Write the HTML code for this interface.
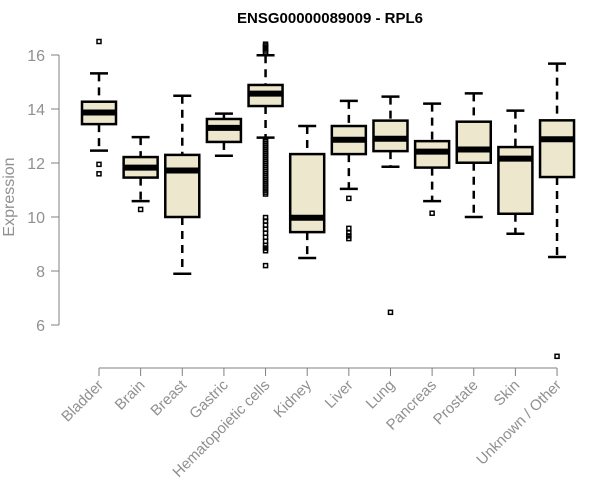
<!DOCTYPE html>
<html><head><meta charset="utf-8"><style>
body{margin:0;background:#fff;}
svg{display:block;font-family:"Liberation Sans",Arial,sans-serif;}
</style></head><body>
<svg id="chart" width="600" height="500">
<text x="330" y="23" text-anchor="middle" font-size="15" font-weight="bold" fill="#000">ENSG00000089009 - RPL6</text>
<text transform="translate(14,197) rotate(-90)" text-anchor="middle" font-size="16" fill="#909090">Expression</text>
</svg>
<script>
const categories=["Bladder","Brain","Breast","Gastric","Hematopoietic cells","Kidney","Liver","Lung","Pancreas","Prostate","Skin","Unknown / Other"];
const lowWhisker=[12.46,10.59,7.9,12.27,12.94,8.48,11.04,11.86,10.59,10.0,9.38,8.52];
const q1=[13.44,11.46,10.0,12.78,14.11,9.44,12.33,12.44,11.83,12.01,10.12,11.48];
const medians=[13.87,11.83,11.72,13.3,14.57,9.97,12.86,12.9,12.42,12.5,12.16,12.88];
const q3=[14.27,12.22,12.3,13.63,14.89,12.33,13.37,13.57,12.81,13.53,12.59,13.58];
const highWhisker=[15.32,12.96,14.49,13.83,15.99,13.37,14.3,14.46,14.2,14.58,13.94,15.68];
const outliers=[
 [16.5,11.95,11.6],[10.28],[],[],
 [16.08,16.15,16.22,16.28,16.34,16.4,12.88,12.8,12.72,12.65,12.58,12.5,12.42,12.35,12.28,12.2,12.12,12.05,11.98,11.9,11.82,11.75,11.68,11.6,11.52,11.45,11.38,11.3,11.22,11.15,11.08,11.0,10.92,10.85,9.98,9.85,9.7,9.55,9.4,9.25,9.1,8.95,8.85,8.75,8.2],
 [],[10.69,9.58,9.41,9.3,9.2],[6.47],[10.14],[],[],[4.84]];
const yTicks=[6,8,10,12,14,16];

const svg=document.getElementById('chart');
const NS='http://www.w3.org/2000/svg';
const y=v=>325-(v-6)*27;
const x=i=>99+i*41.64;
const hw=17;
function mk(tag,attrs,parent){const e=document.createElementNS(NS,tag);for(const k in attrs)e.setAttribute(k,attrs[k]);(parent||svg).appendChild(e);return e;}

const ya=mk('g',{});


mk('line',{x1:59,x2:59,y1:y(yTicks[0]),y2:y(yTicks[yTicks.length-1]),stroke:'#808080','stroke-width':1},ya);
yTicks.forEach(t=>{
 mk('line',{x1:51,x2:59,y1:y(t),y2:y(t),stroke:'#808080'},ya);
 const tx=mk('text',{x:45,y:y(t)+6,'text-anchor':'end','font-size':16,fill:'#909090'},ya);
 
 
 tx.textContent=t;
});
const xa=mk('g',{});


mk('line',{x1:x(0),x2:x(categories.length-1),y1:368,y2:368,stroke:'#808080'},xa);
categories.forEach((c,i)=>{
 mk('line',{x1:x(i),x2:x(i),y1:368,y2:376,stroke:'#808080'},xa);
 const tx=mk('text',{transform:`translate(${x(i)+5},${386}) rotate(-45)`,'text-anchor':'end','font-size':15,fill:'#909090'},xa);
 
 
 tx.textContent=c;
});
categories.forEach((c,i)=>{
 const g=mk('g',{});
 
 
 const cx=x(i);
 mk('line',{x1:cx,x2:cx,y1:y(highWhisker[i]),y2:y(q3[i]),stroke:'#000','stroke-width':2.5,'stroke-dasharray':'8,6'},g);
 mk('line',{x1:cx,x2:cx,y1:y(q1[i]),y2:y(lowWhisker[i]),stroke:'#000','stroke-width':2.5,'stroke-dasharray':'8,6'},g);
 mk('line',{x1:cx-9,x2:cx+9,y1:y(highWhisker[i]),y2:y(highWhisker[i]),stroke:'#000','stroke-width':2.5},g);
 mk('line',{x1:cx-9,x2:cx+9,y1:y(lowWhisker[i]),y2:y(lowWhisker[i]),stroke:'#000','stroke-width':2.5},g);
 mk('rect',{x:cx-hw,y:y(q3[i]),width:2*hw,height:y(q1[i])-y(q3[i]),fill:'#ede7cd',stroke:'#000','stroke-width':2.5},g);
 mk('line',{x1:cx-hw,x2:cx+hw,y1:y(medians[i]),y2:y(medians[i]),stroke:'#000','stroke-width':6},g);
 outliers[i].forEach(v=>{
  const o=mk('rect',{x:cx-2,y:y(v)-2,width:4,height:4,fill:'none',stroke:'#000','stroke-width':1.5},g);
  
  
 });
});
</script>
</body></html>
